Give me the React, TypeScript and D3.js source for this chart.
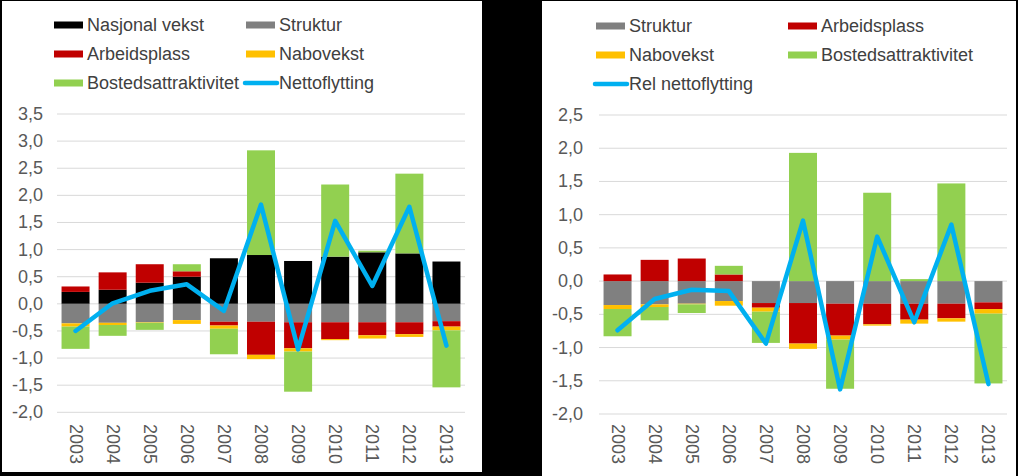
import React from "react";
import * as d3 from "d3";

const years = ["2003", "2004", "2005", "2006", "2007", "2008", "2009", "2010", "2011", "2012", "2013"];
const nasjonalVekst = [0.22, 0.26, 0.39, 0.5, 0.84, 0.9, 0.79, 0.87, 0.95, 0.93, 0.78];
const struktur = [-0.36, -0.35, -0.34, -0.3, -0.33, -0.33, -0.34, -0.34, -0.34, -0.34, -0.32];
const arbeidsplass = [0.1, 0.32, 0.34, 0.1, -0.07, -0.61, -0.48, -0.31, -0.24, -0.22, -0.1];
const nabovekst = [-0.06, -0.04, -0.01, -0.07, -0.06, -0.08, -0.06, -0.02, -0.06, -0.05, -0.07];
const bostedsattraktivitet = [-0.41, -0.2, -0.13, 0.13, -0.47, 1.93, -0.74, 1.33, 0.03, 1.47, -1.05];
const nettoflytting = [-0.5, 0.01, 0.24, 0.36, -0.13, 1.83, -0.84, 1.53, 0.33, 1.79, -0.77];
const relNettoflytting = [-0.74, -0.27, -0.13, -0.15, -0.94, 0.91, -1.63, 0.67, -0.62, 0.85, -1.55];

const leftTicks = [-2, -1.5, -1, -0.5, 0, 0.5, 1, 1.5, 2, 2.5, 3, 3.5];
const rightTicks = [-2, -1.5, -1, -0.5, 0, 0.5, 1, 1.5, 2, 2.5];

const COLORS: Record<string, string> = {
  "Nasjonal vekst": "#000000",
  Struktur: "#808080",
  Arbeidsplass: "#C00000",
  Nabovekst: "#FFC000",
  Bostedsattraktivitet: "#92D050",
  line: "#00B0F0",
};

const FONT = "'Liberation Sans', Arial, sans-serif";
const fmt = (v: number) => v.toFixed(1).replace(".", ",").replace("-", "-");

type Series = { name: string; values: number[] };

function Chart(props: {
  x0: number; x1: number; yTop: number; yBot: number; vTop: number; vBot: number;
  ticks: number[]; series: Series[]; line: number[]; labelX: number;
}) {
  const { x0, x1, yTop, yBot, vTop, vBot, ticks, series, line, labelX } = props;
  const x = d3.scaleBand<string>().domain(years).range([x0, x1]).paddingInner(0.245).paddingOuter(0.1225);
  const y = d3.scaleLinear().domain([vBot, vTop]).range([yBot, yTop]);
  const rows = years.map((yr, i) => {
    const o: Record<string, number | string> = { year: yr };
    series.forEach((s) => (o[s.name] = s.values[i]));
    return o;
  });
  const stack = d3.stack<any>().keys(series.map((s) => s.name)).offset(d3.stackOffsetDiverging);
  const layers = stack(rows as any);
  const lineGen = d3.line<number>().x((_, i) => (x(years[i]) as number) + x.bandwidth() / 2).y((d) => y(d));
  return (
    <g>
      {ticks.map((t) => (
        <g key={t}>
          <line x1={x0} x2={x1} y1={y(t)} y2={y(t)} stroke="#D9D9D9" strokeWidth={1} />
          <text x={labelX} y={y(t)} textAnchor="end" dominantBaseline="central" fontSize={18} fill="#595959" fontFamily={FONT}>
            {fmt(t)}
          </text>
        </g>
      ))}
      {layers.map((layer) => (
        <g key={layer.key} fill={COLORS[layer.key]}>
          {layer.map((d, i) => (
            <rect key={i} x={x(years[i])} width={x.bandwidth()} y={y(Math.max(d[0], d[1]))} height={Math.abs(y(d[0]) - y(d[1]))} />
          ))}
        </g>
      ))}
      <path d={lineGen(line) || ""} fill="none" stroke={COLORS.line} strokeWidth={4.5} strokeLinejoin="round" strokeLinecap="round" />
      {years.map((yr) => {
        const cx = (x(yr) as number) + x.bandwidth() / 2;
        return (
          <text key={yr} transform={`translate(${cx},${424}) rotate(90)`} textAnchor="start" dominantBaseline="central" fontSize={18} fill="#595959" fontFamily={FONT}>
            {yr}
          </text>
        );
      })}
    </g>
  );
}

type LegendItem = { name: string; kind: "bar" | "line"; col: number; row: number };

function Legend(props: { items: LegendItem[]; cols: number[]; rows: number[] }) {
  const { items, cols, rows } = props;
  return (
    <g>
      {items.map((it) => {
        const sx = cols[it.col];
        const cy = rows[it.row];
        return (
          <g key={it.name}>
            {it.kind === "bar" ? (
              <rect x={sx} y={cy - 3.5} width={29} height={7} fill={COLORS[it.name]} />
            ) : (
              <line x1={sx - 1} x2={sx + 31} y1={cy} y2={cy} stroke={COLORS.line} strokeWidth={4.5} strokeLinecap="round" />
            )}
            <text x={sx + 33} y={cy} dominantBaseline="central" fontSize={18} fill="#404040" fontFamily={FONT}>
              {it.name}
            </text>
          </g>
        );
      })}
    </g>
  );
}

export default function App() {
  const leftSeries: Series[] = [
    { name: "Nasjonal vekst", values: nasjonalVekst },
    { name: "Struktur", values: struktur },
    { name: "Arbeidsplass", values: arbeidsplass },
    { name: "Nabovekst", values: nabovekst },
    { name: "Bostedsattraktivitet", values: bostedsattraktivitet },
  ];
  const rightSeries: Series[] = leftSeries.slice(1);
  const leftLegend: LegendItem[] = [
    { name: "Nasjonal vekst", kind: "bar", col: 0, row: 0 },
    { name: "Struktur", kind: "bar", col: 1, row: 0 },
    { name: "Arbeidsplass", kind: "bar", col: 0, row: 1 },
    { name: "Nabovekst", kind: "bar", col: 1, row: 1 },
    { name: "Bostedsattraktivitet", kind: "bar", col: 0, row: 2 },
    { name: "Nettoflytting", kind: "line", col: 1, row: 2 },
  ];
  const rightLegend: LegendItem[] = [
    { name: "Struktur", kind: "bar", col: 0, row: 0 },
    { name: "Arbeidsplass", kind: "bar", col: 1, row: 0 },
    { name: "Nabovekst", kind: "bar", col: 0, row: 1 },
    { name: "Bostedsattraktivitet", kind: "bar", col: 1, row: 1 },
    { name: "Rel nettoflytting", kind: "line", col: 0, row: 2 },
  ];
  return (
    <svg width={1024} height={476} style={{ position: "absolute", left: 0, top: 0, display: "block" }}>
      <rect x={0} y={0} width={1024} height={476} fill="#000000" />
      <rect x={2} y={1} width={480} height={471} fill="#FFFFFF" />
      <rect x={542} y={1} width={474} height={475} fill="#FFFFFF" />
      <rect x={1018} y={0} width={6} height={476} fill="#FFFFFF" />
      <Legend items={leftLegend} cols={[54, 246]} rows={[25, 54, 83]} />
      <Legend items={rightLegend} cols={[596, 788]} rows={[26, 55, 84]} />
      <Chart x0={57} x1={465} yTop={114} yBot={412.3} vTop={3.5} vBot={-2} ticks={leftTicks} series={leftSeries} line={nettoflytting} labelX={43} />
      <Chart x0={599} x1={1007} yTop={115} yBot={414} vTop={2.5} vBot={-2} ticks={rightTicks} series={rightSeries} line={relNettoflytting} labelX={583} />
    </svg>
  );
}
